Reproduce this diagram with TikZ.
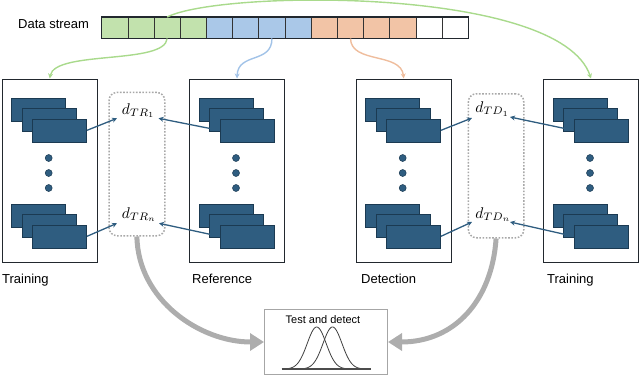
\documentclass[tikz,border=0pt]{standalone}
\usepackage{fontspec}
\setmainfont{Liberation Sans}
\usetikzlibrary{arrows.meta}
\definecolor{gfill}{HTML}{C2E2AD}
\definecolor{bfill}{HTML}{AAC8E8}
\definecolor{ofill}{HTML}{F2C4A6}
\definecolor{garrc}{HTML}{A9DA8C}
\definecolor{barrc}{HTML}{A2C3E8}
\definecolor{oarrc}{HTML}{EFBD9D}
\definecolor{blkfill}{HTML}{2F5D80}
\definecolor{blkline}{HTML}{1B3A52}
\definecolor{framec}{HTML}{22282E}
\definecolor{dotgray}{HTML}{A8A8A8}
\definecolor{grayarr}{HTML}{ADADAD}
\definecolor{testgray}{HTML}{A6A6A6}
\begin{document}
\begin{tikzpicture}[x=1pt,y=-1pt,
  cell/.style={draw=black!80, line width=0.7pt, minimum width=26.19pt, minimum height=21.5pt, inner sep=0pt, outer sep=0pt, anchor=north west},
  frame/.style={draw=framec, line width=1pt, minimum width=95pt, minimum height=183.5pt, inner sep=0pt, anchor=north west},
  blk/.style={draw=blkline, fill=blkfill, line width=0.7pt, minimum width=54pt, minimum height=23pt, inner sep=0pt, anchor=north west},
  dotc/.style={circle, fill=blkfill, draw=blkline, line width=0.5pt, minimum size=7pt, inner sep=0pt},
  lbl/.style={font=\fontsize{13}{15}\selectfont, anchor=base west, inner sep=0pt},
  dlbl/.style={font=\normalsize, scale=1.55, transform shape, anchor=base west, inner sep=0pt},
  darr/.style={draw=blkfill, line width=1.3pt, -{Stealth[length=5pt,width=5pt]}},
  grr/.style={draw=grayarr, line width=5pt, -{Triangle[length=14pt,width=17pt]}},
  dotbox/.style={draw=dotgray, line width=1.5pt, dash pattern=on 1.6pt off 1.6pt, rounded corners=8pt, inner sep=0pt, anchor=north west},
  sarr/.style={line width=1.4pt, -{Stealth[length=5pt,width=5pt]}},
  gaus/.style={draw=black!75, line width=0.8pt}
]
\useasboundingbox (0,0) rectangle (640,375);

% data stream
\node[lbl] (ds) at (18,28.3) {Data stream};
\foreach \i/\c in {0/gfill,1/gfill,2/gfill,3/gfill,4/bfill,5/bfill,6/bfill,7/bfill,8/ofill,9/ofill,10/ofill,11/ofill,12/white,13/white}{
  \node[cell, fill=\c] (c\i) at (101.7+\i*26.19,17) {};
}
\draw[framec, line width=1.1pt] (c0.north west) rectangle (c13.south east);

% boxes with stacks
\foreach \bx/\nm in {1.7/TL,189/RF,355.7/DT,543/TR}{
  \node[frame] (\nm) at (\bx,78.5) {};
  \foreach \sy/\s in {97.5/u,203.5/l}{
    \node[blk] (\nm\s1) at (\bx+9.5,\sy) {};
    \node[blk] (\nm\s2) at (\bx+20,\sy+10.5) {};
    \node[blk] (\nm\s3) at (\bx+30.5,\sy+21) {};
  }
  \foreach \dy/\k in {158/1,173/2,188/3} \node[dotc] (\nm d\k) at (\bx+47,\dy) {};
}

% colored stream arrows
\draw[sarr, garrc] (c2.north) .. controls (220,-10) and (560,-14) .. (TR.north);
\draw[sarr, garrc] (c2.south) .. controls (165,65) and (55,50) .. (TL.north);
\draw[sarr, barrc] (c6.south) .. controls (272,64) and (238,52) .. (RF.north);
\draw[sarr, oarrc] (c9.south) .. controls (351,64) and (401,52) .. (DT.north);

% labels under boxes
\node[lbl] (lTL) at (2,283) {Training};
\node[lbl] (lRF) at (192,283) {Reference};
\node[lbl] (lDT) at (361,283) {Detection};
\node[lbl] (lTR) at (547,283) {Training};

% dotted groups
\node[dotbox, minimum width=55.7pt, minimum height=143.3pt] (DL) at (108.3,91.7) {};
\node[dotbox, minimum width=55.3pt, minimum height=144pt] (DR) at (467.7,93) {};

\node[dlbl] (dTR1) at (121.5,114) {$d_{TR_1}$};
\node[dlbl] (dTRn) at (121.5,218) {$d_{TR_n}$};
\node[dlbl] (dTD1) at (475,112.3) {$d_{TD_1}$};
\node[dlbl] (dTDn) at (475,218) {$d_{TD_n}$};

\coordinate (pTR1l) at (117,118.3);
\coordinate (pTR1r) at (158.5,118.3);
\coordinate (pTRnl) at (117,223.3);
\coordinate (pTRnr) at (159,223.3);
\coordinate (pTD1l) at (472,118);
\coordinate (pTD1r) at (510,117);
\coordinate (pTDnl) at (472,222);
\coordinate (pTDnr) at (510,222);

\draw[darr] (TLu3.east) -- (pTR1l);
\draw[darr] (TLl3.east) -- (pTRnl);
\draw[darr] (RFu3.west) -- (pTR1r);
\draw[darr] (RFl3.west) -- (pTRnr);
\draw[darr] (DTu3.east) -- (pTD1l);
\draw[darr] (DTl3.east) -- (pTDnl);
\draw[darr] (TRu3.west) -- (pTD1r);
\draw[darr] (TRl3.west) -- (pTDnr);

% test box
\node[draw=testgray, fill=white, line width=1pt, minimum width=123pt, minimum height=65pt, anchor=north west, inner sep=0pt] (TB) at (264,309) {};
\node[font=\fontsize{11}{13}\selectfont, anchor=base, inner sep=0pt] (TBt) at (323,323) {Test and detect};
\draw[gaus] plot[domain=287:346, samples=70, smooth] (\x, {369-42*exp(-((\x-316.7)/9.5)^2/2)});
\draw[gaus] plot[domain=303:362, samples=70, smooth] (\x, {369-42*exp(-((\x-332.5)/9.5)^2/2)});
\draw[black!70, line width=1.2pt] (281.7,369) -- (370.7,369);

% gray arrows
\draw[grr] (DL.south) .. controls (138,300) and (200,342) .. (TB.west);
\draw[grr] (DR.south) .. controls (492,300) and (455,342) .. (TB.east);
\end{tikzpicture}
\end{document}
